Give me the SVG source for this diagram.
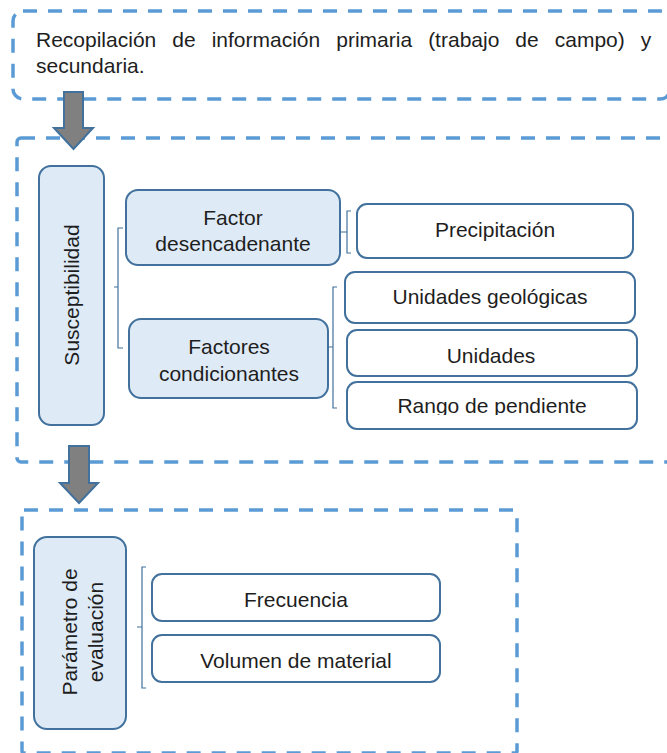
<svg xmlns="http://www.w3.org/2000/svg" width="667" height="753" viewBox="0 0 667 753">
  <style>
    .frame { fill: none; stroke: #5B9BD5; stroke-width: 3.5; stroke-dasharray: 14 11; }
    .blue { fill: #DEEBF7; stroke: #41719C; stroke-width: 2; }
    .white { fill: #FFFFFF; stroke: #41719C; stroke-width: 2; }
    .arrow { fill: #808080; stroke: #41719C; stroke-width: 2; stroke-linejoin: miter; }
    .brk { fill: none; stroke: #41719C; stroke-width: 1.2; }
    text { font-family: "Liberation Sans", Arial, sans-serif; font-size: 21px; fill: #1E1E1E; }
    .c { text-anchor: middle; }
  </style>
  <defs>
    <clipPath id="clipRango"><rect x="340" y="380" width="310" height="35"/></clipPath>
  </defs>

  <!-- frames -->
  <g id="frame-recopilacion">
    <rect class="frame" x="13" y="11" width="657" height="88" rx="10"/>
    <text x="36" y="47" word-spacing="10.2">Recopilación de información primaria (trabajo de campo) y</text>
    <text x="36" y="73">secundaria.</text>
  </g>
  <g id="frame-susceptibilidad">
    <rect class="frame" x="17" y="138" width="660" height="324" rx="4"/>
  </g>
  <g id="frame-parametro">
    <rect class="frame" x="22" y="510" width="495" height="243" rx="2"/>
  </g>

  <!-- nodes -->
  <g id="node-susceptibilidad">
    <rect class="blue" x="39" y="166" width="65" height="259" rx="12"/>
    <text class="c" transform="translate(79,295) rotate(-90)" font-size="22">Susceptibilidad</text>
  </g>
  <g id="node-factor-desencadenante">
    <rect class="blue" x="126" y="190" width="214" height="75" rx="12"/>
    <text class="c" x="233" y="225">Factor</text>
    <text class="c" x="233" y="251">desencadenante</text>
  </g>
  <g id="node-factores-condicionantes">
    <rect class="blue" x="129" y="319" width="199" height="79" rx="12"/>
    <text class="c" x="229" y="354">Factores</text>
    <text class="c" x="229" y="381">condicionantes</text>
  </g>
  <g id="node-precipitacion">
    <rect class="white" x="357" y="204" width="276" height="54" rx="10"/>
    <text class="c" x="495" y="237">Precipitación</text>
  </g>
  <g id="node-unidades-geologicas">
    <rect class="white" x="345" y="272" width="290" height="51" rx="10"/>
    <text class="c" x="490" y="304">Unidades geológicas</text>
  </g>
  <g id="node-unidades">
    <rect class="white" x="347" y="330" width="290" height="46" rx="10"/>
    <text class="c" x="491" y="363">Unidades</text>
  </g>
  <g id="node-rango-pendiente">
    <rect class="white" x="347" y="382" width="290" height="47" rx="10"/>
    <text class="c" x="492" y="413" clip-path="url(#clipRango)">Rango de pendiente</text>
  </g>
  <g id="node-parametro">
    <rect class="blue" x="34" y="537" width="92" height="192" rx="13"/>
    <text class="c" transform="translate(77,632) rotate(-90)" font-size="22">Parámetro de</text>
    <text class="c" transform="translate(103,632) rotate(-90)" font-size="22">evaluación</text>
  </g>
  <g id="node-frecuencia">
    <rect class="white" x="152" y="574" width="288" height="47" rx="10"/>
    <text class="c" x="296" y="607">Frecuencia</text>
  </g>
  <g id="node-volumen">
    <rect class="white" x="152" y="635" width="288" height="47" rx="10"/>
    <text class="c" x="296" y="668">Volumen de material</text>
  </g>

  <!-- connectors -->
  <g id="connectors">
    <path class="brk" d="M123,228 H118 V348 H123 M118,287 H114"/>
    <path class="brk" d="M351,211 H347 V253 H351 M347,232 H341"/>
    <path class="brk" d="M337,287 H333 V408 H337 M333,347 H328"/>
    <path class="brk" d="M146,567 H142 V688 H146 M142,627 H137"/>
    <path class="arrow" d="M64,92 H83 V128 H93 L73.5,149 L54,128 H64 Z"/>
    <path class="arrow" d="M69,446 H89 V483 H98 L79,503 L60,483 H69 Z"/>
  </g>
</svg>
